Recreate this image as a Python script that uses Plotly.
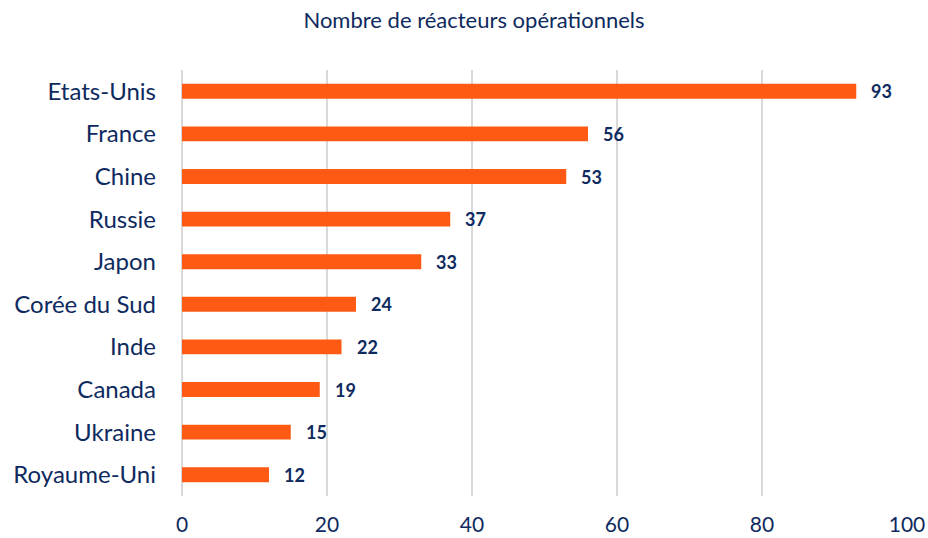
import plotly.graph_objects as go

pays = ['Etats-Unis', 'France', 'Chine', 'Russie', 'Japon',
        'Corée du Sud', 'Inde', 'Canada', 'Ukraine', 'Royaume-Uni']
reacteurs = [93, 56, 53, 37, 33, 24, 22, 19, 15, 12]
x_ticks = [0, 20, 40, 60, 80, 100]

orange = '#FF5A14'
navy = '#0E2A5E'
font_name = 'Lato, Open Sans, sans-serif'

fig = go.Figure(go.Bar(
    x=reacteurs,
    y=pays,
    orientation='h',
    marker=dict(color=orange, line=dict(width=0)),
    hoverinfo='x+y',
))

# value labels just past each bar end
for p, v in zip(pays, reacteurs):
    fig.add_annotation(x=v, y=p, text=f'<b>{v}</b>', showarrow=False,
                       xanchor='left', xshift=13,
                       font=dict(family=font_name, size=18, color=navy))

fig.update_layout(
    width=928, height=538,
    margin=dict(l=182, r=21, t=70, b=42),
    paper_bgcolor='white', plot_bgcolor='white',
    bargap=0.65,
    showlegend=False,
    title=dict(text='Nombre de réacteurs opérationnels', x=474 / 928, xanchor='center',
               y=1 - 20 / 538, yanchor='middle',
               font=dict(family=font_name, size=22, color=navy)),
    font=dict(family=font_name, color=navy),
)

fig.update_xaxes(range=[0, 100], tickvals=x_ticks, showgrid=True,
                 gridcolor='#D9D9D9', gridwidth=2,
                 zeroline=True, zerolinecolor='#D9D9D9', zerolinewidth=2,
                 showline=False, ticks='', ticklabelstandoff=14,
                 automargin=False,
                 tickfont=dict(family=font_name, size=21, color=navy))
fig.update_yaxes(categoryorder='array', categoryarray=pays[::-1],
                 showgrid=False, zeroline=False, showline=False, ticks='',
                 ticklabelstandoff=25, automargin=False,
                 tickfont=dict(family=font_name, size=24, color=navy))

# drop the browser's default 8px body margin so the figure fills the window
fig.write_html('out.html', config={'displayModeBar': False},
               post_script="document.body.style.margin='0';")
